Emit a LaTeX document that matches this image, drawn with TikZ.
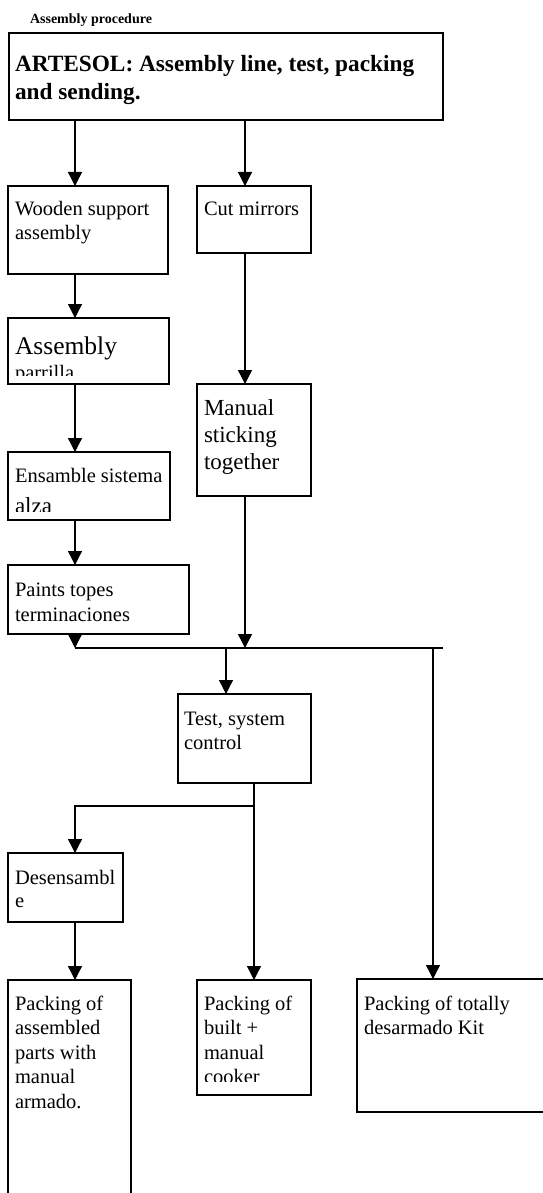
\documentclass[tikz,border=0pt]{standalone}
\usepackage{fontspec}
\setmainfont{Liberation Serif}
\usetikzlibrary{arrows.meta}
\newcommand\bxtext[3]{\parbox[t]{400pt}{\raggedright\fontsize{#1}{#2}\selectfont #3}}
\begin{document}
\begin{tikzpicture}[x=1pt,y=-1pt,
  box/.style={draw, line width=1.3pt, anchor=north west, inner sep=0pt, outer sep=0pt},
  txt/.style={anchor=base west, inner sep=0pt, outer sep=0pt},
  arr/.style={line width=1.3pt, -{Triangle[width=14pt,length=14pt]}},
  ln/.style={line width=1.3pt}]
\useasboundingbox (0,0) rectangle (542,1193);
% x positions of connectors
\coordinate (xl) at (75,0);
\coordinate (xm) at (245,0);
\coordinate (xt) at (226,0);
\coordinate (xb) at (254,0);
\coordinate (xr) at (433,0);
\coordinate (xe) at (443,0);
\coordinate (bus) at (0,648);
\coordinate (br) at (0,806);
% title
\node[txt] (title) at (30,24) {\bxtext{14}{16}{\bfseries Assembly procedure}};
% boxes
\node[box, minimum width=434pt, minimum height=87pt] (top) at (9,33) {};
\node[txt] (topT) at (15,72) {\bxtext{23.3}{28}{\bfseries ARTESOL: Assembly line, test, packing\\and sending.}};
\node[box, minimum width=160pt, minimum height=88pt] (wood) at (8,186) {};
\node[txt] (woodT) at (15,215) {\bxtext{20.5}{24.5}{Wooden support\\assembly}};
\node[box, minimum width=114pt, minimum height=67pt] (cut) at (197,186) {};
\node[txt] (cutT) at (204,215) {\bxtext{20.5}{24.5}{Cut mirrors}};
\node[box, minimum width=161pt, minimum height=66pt] (parr) at (8,318) {};
\begin{scope}
\clip (parr.north west) rectangle ([yshift=9pt]parr.south east);
\node[txt] (parrT) at (15,354) {\bxtext{25.5}{28}{Assembly\par\fontsize{20.5}{25}\selectfont parrilla}};
\end{scope}
\node[box, minimum width=114pt, minimum height=112pt] (manual) at (197,384) {};
\node[txt] (manualT) at (204,415) {\bxtext{23}{27}{Manual\\sticking\\together}};
\node[box, minimum width=162pt, minimum height=68pt] (ens) at (8,452) {};
\begin{scope}
\clip (ens.north west) rectangle ([yshift=9pt]ens.south east);
\node[txt] (ensT) at (15,482) {\bxtext{20.5}{24.5}{Ensamble sistema\par\fontsize{23}{31}\selectfont alza}};
\end{scope}
\node[box, minimum width=181pt, minimum height=69pt] (paints) at (8,565) {};
\node[txt] (paintsT) at (15,596) {\bxtext{20.5}{25}{Paints topes\\terminaciones}};
\node[box, minimum width=133pt, minimum height=89pt] (test) at (178,694) {};
\node[txt] (testT) at (184,725) {\bxtext{20.5}{24}{Test, system\\control}};
\node[box, minimum width=115pt, minimum height=69pt] (des) at (8,853) {};
\node[txt] (desT) at (15,884) {\bxtext{20.5}{23.5}{Desensambl\\e}};
\node[box, minimum width=123pt, minimum height=240pt] (asm) at (8,980) {};
\node[txt] (asmT) at (15,1010) {\bxtext{20.5}{24.5}{Packing of\\assembled\\parts with\\manual\\armado.}};
\node[box, minimum width=114pt, minimum height=115pt] (built) at (197,980) {};
\begin{scope}
\clip (built.north west) rectangle ([yshift=14pt]built.south east);
\node[txt] (builtT) at (204,1010) {\bxtext{20.5}{24.5}{Packing of\\built +\\manual\\cooker}};
\end{scope}
\node[box, minimum width=220pt, minimum height=133pt] (kit) at (357,979) {};
\node[txt] (kitT) at (364,1010) {\bxtext{20.5}{24.5}{Packing of totally\\desarmado Kit}};
% connectors
\draw[arr] (top.south -| xl) -- (wood.north -| xl);
\draw[arr] (top.south -| xm) -- (cut.north -| xm);
\draw[arr] (wood.south -| xl) -- (parr.north -| xl);
\draw[arr] (cut.south -| xm) -- (manual.north -| xm);
\draw[arr] (parr.south -| xl) -- (ens.north -| xl);
\draw[arr] (ens.south -| xl) -- (paints.north -| xl);
\draw[arr] (paints.south -| xl) -- (bus -| xl);
\draw[arr] (manual.south -| xm) -- (bus -| xm);
\draw[ln] (bus -| xl) -- (bus -| xe);
\draw[arr] (bus -| xt) -- (test.north -| xt);
\draw[arr] (bus -| xr) -- (kit.north -| xr);
\draw[arr] (test.south -| xb) -- (built.north -| xb);
\draw[arr] (br -| xb) -- (br -| xl) -- (des.north -| xl);
\draw[arr] (des.south -| xl) -- (asm.north -| xl);
\end{tikzpicture}
\end{document}
